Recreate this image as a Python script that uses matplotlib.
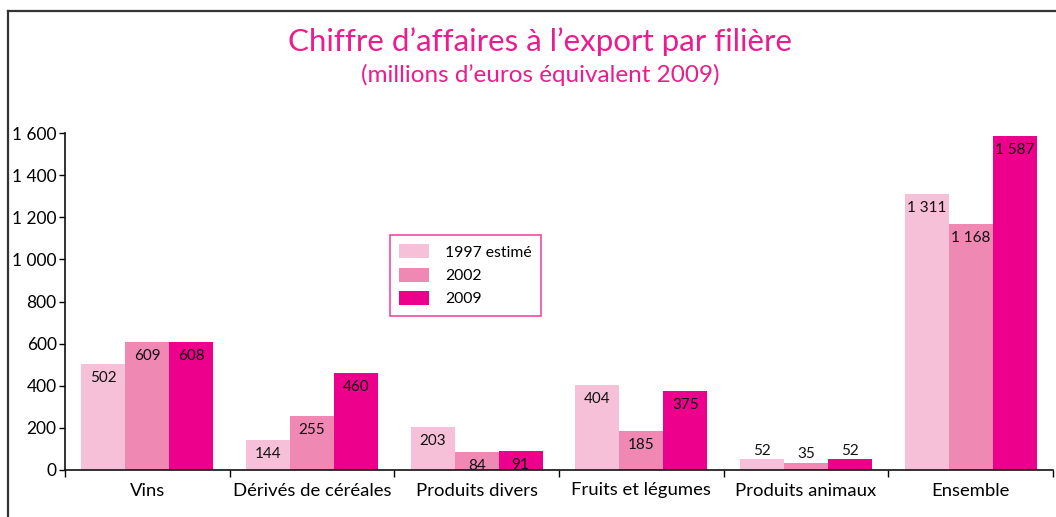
import matplotlib.pyplot as plt
import numpy as np

categories = ["Vins", "Dérivés de céréales", "Produits divers",
              "Fruits et légumes", "Produits animaux", "Ensemble"]
series_names = ["1997 estimé", "2002", "2009"]
v1997 = [502, 144, 203, 404, 52, 1311]
v2002 = [609, 255, 84, 185, 35, 1168]
v2009 = [608, 460, 91, 375, 52, 1587]
colors = ["#F6C0D8", "#F088B4", "#EC008C"]
pink = "#EC1C8C"

plt.rcParams['font.family'] = ['Lato', 'DejaVu Sans']

fig = plt.figure(figsize=(10.56, 5.17), dpi=100)
ax = fig.add_axes([65/1056, 47/517, (1053-65)/1056, 337/517])

x = np.arange(len(categories))
w = 0.8 / 3
for i, (vals, name) in enumerate(zip([v1997, v2002, v2009], series_names)):
    pos = x - w + i * w
    ax.bar(pos, vals, width=w, color=colors[i], label=name, zorder=2)
    for p, v in zip(pos, vals):
        txt = f"{v:,}".replace(",", " ")
        if v >= 80:
            ax.annotate(txt, (p, v), xytext=(0, -10), textcoords="offset points",
                        ha="center", va="center", fontsize=11, color="#111111", zorder=3)
        else:
            ax.annotate(txt, (p, v), xytext=(0, 1), textcoords="offset points",
                        ha="center", va="bottom", fontsize=11, color="#111111", zorder=3)

ax.set_xlim(-0.5, len(categories) - 0.5)
ax.set_ylim(0, 1600)
ax.set_yticks(np.arange(0, 1601, 200))
ax.set_yticklabels([f"{t:,}".replace(",", " ") for t in range(0, 1601, 200)], fontsize=12.5)
ax.set_xticks(x)
ax.set_xticklabels(categories, fontsize=13.3)
ax.set_xticks(np.arange(-0.5, len(categories)), minor=True)
ax.tick_params(axis="x", which="major", length=0, pad=9)
ax.tick_params(axis="x", which="minor", length=5, direction="out", width=1)
ax.tick_params(axis="y", length=4, width=1, pad=2)
for s in ["top", "right"]:
    ax.spines[s].set_visible(False)
for s in ["left", "bottom"]:
    ax.spines[s].set_linewidth(1.2)
    ax.spines[s].set_color("#111111")

leg = ax.legend(loc="upper left", bbox_to_anchor=((390-65)/988, (470-235)/337),
                borderaxespad=0, frameon=True, fancybox=False, fontsize=11.3,
                handlelength=1.9, handleheight=1.0, borderpad=0.6,
                labelspacing=0.5, handletextpad=1.0)
leg.get_frame().set_edgecolor(pink)
leg.get_frame().set_linewidth(1.2)

fig.text(540/1056, 1 - 42/517, "Chiffre d\u2019affaires à l\u2019export par filière",
         ha="center", va="center", fontsize=22.5, color=pink)
fig.text(540/1056, 1 - 75/517, "(millions d\u2019euros équivalent 2009)",
         ha="center", va="center", fontsize=17.5, color=pink)

# frame lines (top and left)
fig.add_artist(plt.Line2D([7.5/1056, 1], [1 - 10.5/517, 1 - 10.5/517], color="#333333", lw=1.6))
fig.add_artist(plt.Line2D([7.5/1056, 7.5/1056], [0, 1 - 10.5/517], color="#333333", lw=1.6))

fig.savefig("out.png", dpi=100)
